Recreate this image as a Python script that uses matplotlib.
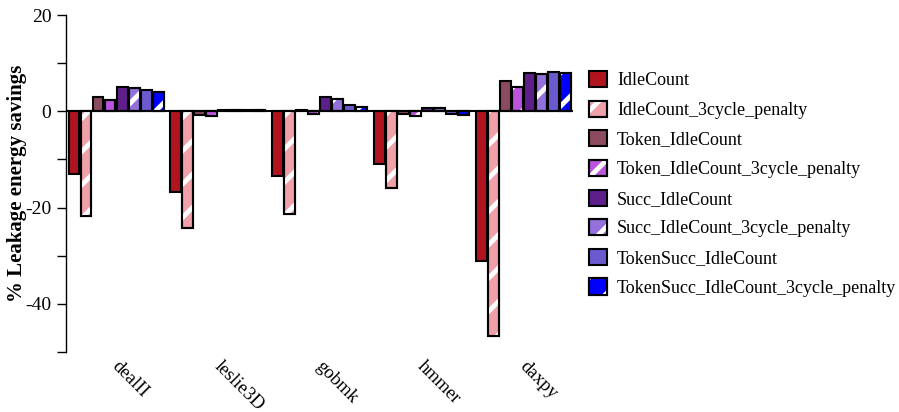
import matplotlib
matplotlib.use("Agg")
import matplotlib.pyplot as plt
import matplotlib.transforms as mtransforms
import numpy as np
from matplotlib.patches import Patch
from matplotlib.legend_handler import HandlerTuple

plt.rcParams['font.family'] = ['Liberation Serif', 'DejaVu Serif']
plt.rcParams['hatch.linewidth'] = 3.5

benchmarks = ["dealII", "leslie3D", "gobmk", "hmmer", "daxpy"]
series_names = ["IdleCount", "IdleCount_3cycle_penalty", "Token_IdleCount",
                "Token_IdleCount_3cycle_penalty", "Succ_IdleCount",
                "Succ_IdleCount_3cycle_penalty", "TokenSucc_IdleCount",
                "TokenSucc_IdleCount_3cycle_penalty"]

idlecount = [-13.0, -16.8, -13.5, -11.0, -31.2]
idlecount_3c = [-21.8, -24.3, -21.4, -15.9, -46.6]
token = [3.0, -0.7, 0.2, -0.6, 6.2]
token_3c = [2.3, -1.0, -0.5, -1.0, 5.1]
succ = [5.1, 0.2, 2.9, 0.7, 8.0]
succ_3c = [4.85, 0.2, 2.6, 0.7, 7.8]
tokensucc = [4.4, 0.2, 1.4, -0.5, 8.1]
tokensucc_3c = [4.1, 0.2, 0.9, -0.8, 8.0]

series_values = [idlecount, idlecount_3c, token, token_3c, succ, succ_3c,
                 tokensucc, tokensucc_3c]
colors = ["#B0151F", "#F0A0A8", "#8B4A5E", "#BB55DD", "#5E1F8A", "#9370DB",
          "#6A5ACD", "#0000FF"]
hatched = [False, True, False, True, False, True, False, True]

yticks = [20, 10, 0, -10, -20, -30, -40, -50]
ytick_labels = ["20", "", "0", "", "-20", "", "-40", ""]

fig = plt.figure(figsize=(8.99, 4.12), dpi=100)
ax = fig.add_axes([66/899, 1-352/412, (573-66)/899, (352-15)/412])

width = 0.118
x = np.arange(len(benchmarks))
handles = []
for i, (name, vals, c, h) in enumerate(zip(series_names, series_values, colors, hatched)):
    pos = x - 0.47 + width*(i + 0.5)
    ax.bar(pos, vals, width*0.9, color=c, edgecolor='black', linewidth=1.5, zorder=2)
    if h:
        ax.bar(pos, vals, width*0.9, fill=False, hatch='/', edgecolor='white',
               linewidth=0, zorder=3)
        ax.bar(pos, vals, width*0.9, fill=False, edgecolor='black', linewidth=1.5, zorder=4)
        hd = (Patch(facecolor=c, edgecolor='black', linewidth=1.5),
              Patch(fill=False, hatch='/', edgecolor='white', linewidth=0),
              Patch(fill=False, edgecolor='black', linewidth=1.5))
    else:
        hd = Patch(facecolor=c, edgecolor='black', linewidth=1.5)
    handles.append(hd)

ax.axhline(0, color='black', linewidth=1.5, zorder=5)
ax.set_xlim(-0.49, 4.49)
ax.set_ylim(-50, 20)
ax.set_yticks(yticks)
ax.set_yticklabels(ytick_labels, fontsize=14)
ax.set_xticks(x)
ax.set_xticklabels([])
base = mtransforms.blended_transform_factory(ax.transData, ax.transAxes)
offset = mtransforms.ScaledTranslation(5/100, -6/100, fig.dpi_scale_trans)
for xi, name in zip(x, benchmarks):
    ax.text(xi, 0, name, transform=base + offset, rotation=-45, ha='left',
            va='top', rotation_mode='anchor', fontsize=13.5, clip_on=False)
ax.tick_params(axis='x', length=0)
ax.tick_params(axis='y', direction='out', length=6.5, width=1, pad=4)
for s in ['top', 'right', 'bottom']:
    ax.spines[s].set_visible(False)
ax.spines['left'].set_linewidth(1)
ax.set_ylabel("% Leakage energy savings", fontsize=15, fontweight='bold')
ax.yaxis.set_label_coords(-0.077, 0.5)

fig.legend(handles, series_names, loc='upper left',
           bbox_to_anchor=(589/899, 1-71/412), frameon=False, fontsize=13,
           handlelength=1.0, handleheight=1.0, handletextpad=0.55,
           labelspacing=0.63, borderpad=0, borderaxespad=0,
           handler_map={tuple: HandlerTuple(ndivide=1)})

fig.savefig("out.png", dpi=100)
